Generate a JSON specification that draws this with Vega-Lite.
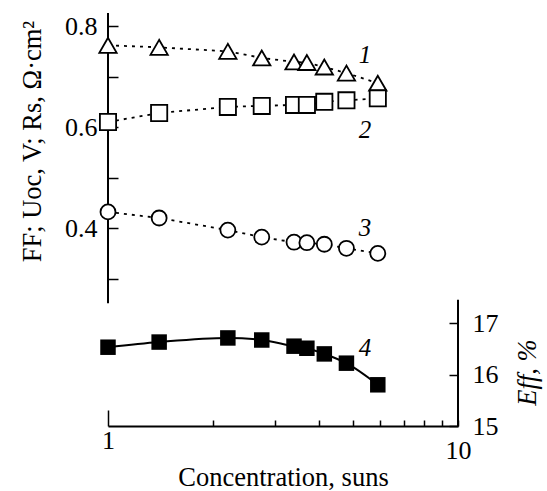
{
  "$schema": "https://vega.github.io/schema/vega-lite/v6.json",
  "width": 350,
  "height": 413,
  "autosize": {"type": "none"},
  "padding": {"left": 108, "top": 13, "right": 89, "bottom": 65},
  "background": "white",
  "config": {
    "view": {"stroke": null},
    "font": "Liberation Serif",
    "axis": {
      "labelFont": "Liberation Serif",
      "titleFont": "Liberation Serif",
      "labelColor": "black",
      "titleColor": "black",
      "tickColor": "black",
      "domainColor": "black",
      "titleFontSize": 26.5,
      "titleFontWeight": "normal",
      "grid": false,
      "tickWidth": 1.5,
      "domainWidth": 2
    }
  },
  "datasets": {
    "open": [
      {"c": 1, "ser": "1", "v": 0.762},
      {"c": 1.4, "ser": "1", "v": 0.758},
      {"c": 2.2, "ser": "1", "v": 0.75},
      {"c": 2.75, "ser": "1", "v": 0.737},
      {"c": 3.4, "ser": "1", "v": 0.729},
      {"c": 3.7, "ser": "1", "v": 0.728},
      {"c": 4.15, "ser": "1", "v": 0.719},
      {"c": 4.8, "ser": "1", "v": 0.707},
      {"c": 5.9, "ser": "1", "v": 0.687},
      {"c": 1, "ser": "2", "v": 0.61},
      {"c": 1.4, "ser": "2", "v": 0.628},
      {"c": 2.2, "ser": "2", "v": 0.64},
      {"c": 2.75, "ser": "2", "v": 0.642},
      {"c": 3.4, "ser": "2", "v": 0.644},
      {"c": 3.7, "ser": "2", "v": 0.644},
      {"c": 4.15, "ser": "2", "v": 0.65},
      {"c": 4.8, "ser": "2", "v": 0.653},
      {"c": 5.9, "ser": "2", "v": 0.657},
      {"c": 1, "ser": "3", "v": 0.432},
      {"c": 1.4, "ser": "3", "v": 0.42},
      {"c": 2.2, "ser": "3", "v": 0.396},
      {"c": 2.75, "ser": "3", "v": 0.382},
      {"c": 3.4, "ser": "3", "v": 0.372},
      {"c": 3.7, "ser": "3", "v": 0.371},
      {"c": 4.15, "ser": "3", "v": 0.368},
      {"c": 4.8, "ser": "3", "v": 0.36},
      {"c": 5.9, "ser": "3", "v": 0.35}
    ],
    "eff": [
      {"c": 1, "eff": 16.53},
      {"c": 1.4, "eff": 16.63},
      {"c": 2.2, "eff": 16.71},
      {"c": 2.75, "eff": 16.67},
      {"c": 3.4, "eff": 16.55},
      {"c": 3.7, "eff": 16.51},
      {"c": 4.15, "eff": 16.4},
      {"c": 4.8, "eff": 16.22},
      {"c": 5.9, "eff": 15.8}
    ]
  },
  "layer": [
    {
      "layer": [
        {
          "data": {"name": "open"},
          "mark": {"type": "line", "color": "black", "strokeWidth": 1.8, "strokeDash": [3, 5]},
          "encoding": {
            "x": {
              "field": "c",
              "type": "quantitative",
              "scale": {"type": "log", "domain": [1, 10]},
              "axis": {
                "title": "Concentration, suns",
                "values": [1, 2, 3, 4, 5, 6, 7, 8, 9, 10],
                "labelExpr": "datum.value == 1 ? '1' : (datum.value == 10 ? '10' : '')",
                "labelFontSize": 26,
                "tickSize": {"condition": {"test": "datum.value == 1", "value": -16}, "value": -6},
                "labelPadding": 17,
                "labelFlush": false,
                "titleY": 51,
                "titleBaseline": "middle"
              }
            },
            "y": {
              "field": "v",
              "type": "quantitative",
              "scale": {"domain": [0.008, 0.826], "nice": false, "zero": false},
              "axis": {
                "title": "FF; Uoc, V; Rs, Ω·cm²",
                "values": [0.3, 0.4, 0.5, 0.6, 0.7, 0.8],
                "format": ".1f",
                "labelExpr": "(datum.label == '0.4' || datum.label == '0.6' || datum.label == '0.8') ? datum.label : ''",
                "labelFontSize": 26,
                "tickSize": -10,
                "labelPadding": 21,
                "domain": false,
                "titleAngle": 270,
                "titleX": -76,
                "titleY": 128,
                "titleBaseline": "middle",
                "titleAlign": "center"
              }
            },
            "detail": {"field": "ser"}
          }
        },
        {
          "data": {"values": [{}]},
          "mark": {"type": "rule", "color": "black", "strokeWidth": 2},
          "encoding": {
            "x": {"datum": 1, "type": "quantitative"},
            "y": {"datum": 0.251, "type": "quantitative"},
            "y2": {"datum": 0.826}
          }
        },
        {
          "data": {"name": "open"},
          "mark": {"type": "point", "filled": false, "fill": "white", "fillOpacity": 1, "stroke": "black", "strokeWidth": 1.8, "opacity": 1},
          "encoding": {
            "x": {"field": "c", "type": "quantitative"},
            "y": {"field": "v", "type": "quantitative"},
            "shape": {"field": "ser", "type": "nominal", "scale": {"domain": ["1", "2", "3"], "range": ["triangle-up", "square", "circle"]}, "legend": null},
            "size": {"field": "ser", "type": "ordinal", "scale": {"domain": ["1", "2", "3"], "range": [300, 225, 170]}, "legend": null}
          }
        },
        {
          "data": {"values": [{}]},
          "mark": {"type": "text", "text": "1", "font": "Liberation Serif", "fontStyle": "italic", "fontSize": 25, "color": "black"},
          "encoding": {"x": {"datum": 5.42, "type": "quantitative"}, "y": {"datum": 0.743, "type": "quantitative"}}
        },
        {
          "data": {"values": [{}]},
          "mark": {"type": "text", "text": "2", "font": "Liberation Serif", "fontStyle": "italic", "fontSize": 25, "color": "black"},
          "encoding": {"x": {"datum": 5.42, "type": "quantitative"}, "y": {"datum": 0.594, "type": "quantitative"}}
        },
        {
          "data": {"values": [{}]},
          "mark": {"type": "text", "text": "3", "font": "Liberation Serif", "fontStyle": "italic", "fontSize": 25, "color": "black"},
          "encoding": {"x": {"datum": 5.42, "type": "quantitative"}, "y": {"datum": 0.4, "type": "quantitative"}}
        }
      ]
    },
    {
      "layer": [
        {
          "data": {"name": "eff"},
          "mark": {"type": "line", "color": "black", "strokeWidth": 2, "interpolate": "monotone"},
          "encoding": {
            "x": {"field": "c", "type": "quantitative"},
            "y": {
              "field": "eff",
              "type": "quantitative",
              "scale": {"domain": [15, 23.02], "nice": false, "zero": false},
              "axis": {
                "orient": "right",
                "title": "Eff, %",
                "titleFontStyle": "italic",
                "values": [15, 16, 17],
                "labelFontSize": 26,
                "tickSize": -9,
                "labelPadding": 23,
                "domain": false,
                "titleAngle": 270,
                "titleX": 69,
                "titleY": 359,
                "titleBaseline": "middle",
                "titleAlign": "center"
              }
            }
          }
        },
        {
          "data": {"values": [{}]},
          "mark": {"type": "rule", "color": "black", "strokeWidth": 2},
          "encoding": {
            "x": {"datum": 10, "type": "quantitative"},
            "y": {"datum": 15, "type": "quantitative"},
            "y2": {"datum": 17.45}
          }
        },
        {
          "data": {"name": "eff"},
          "mark": {"type": "square", "filled": true, "color": "black", "size": 240, "opacity": 1},
          "encoding": {
            "x": {"field": "c", "type": "quantitative"},
            "y": {"field": "eff", "type": "quantitative"}
          }
        },
        {
          "data": {"values": [{}]},
          "mark": {"type": "text", "text": "4", "font": "Liberation Serif", "fontStyle": "italic", "fontSize": 25, "color": "black"},
          "encoding": {"x": {"datum": 5.42, "type": "quantitative"}, "y": {"datum": 16.51, "type": "quantitative"}}
        }
      ]
    }
  ],
  "resolve": {"scale": {"y": "independent"}}
}
